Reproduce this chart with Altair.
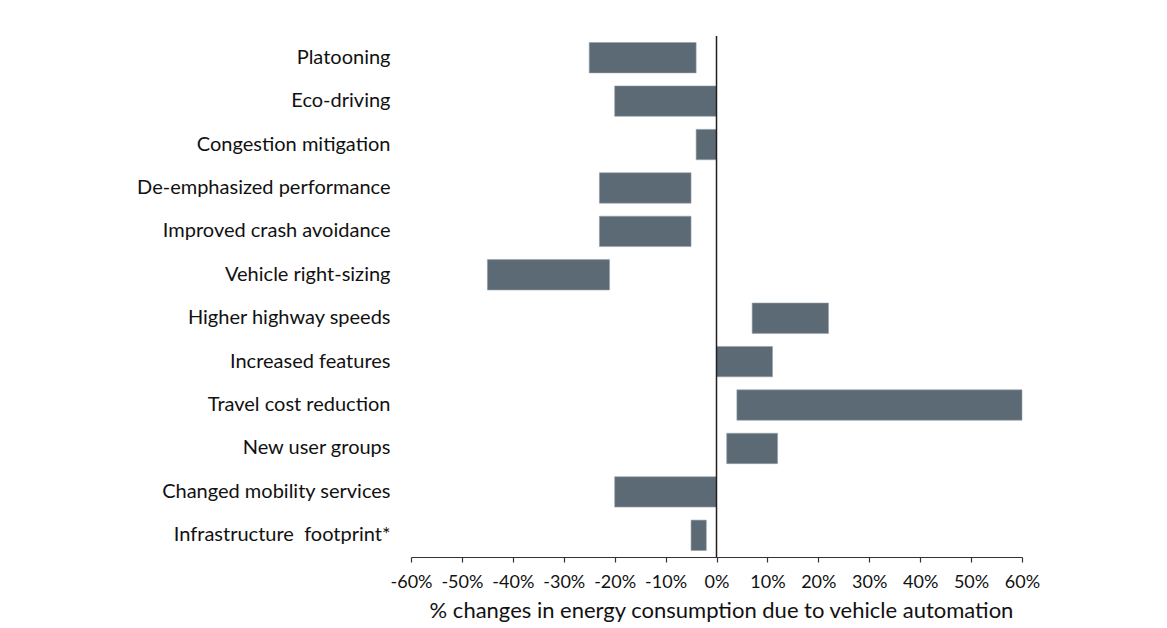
import altair as alt
import pandas as pd

categories = [
    "Platooning",
    "Eco-driving",
    "Congestion mitigation",
    "De-emphasized performance",
    "Improved crash avoidance",
    "Vehicle right-sizing",
    "Higher highway speeds",
    "Increased features",
    "Travel cost reduction",
    "New user groups",
    "Changed mobility services",
    "Infrastructure\u00a0 footprint*",
]
low = [-25, -20, -4, -23, -23, -45, 7, 0, 4, 2, -20, -5]
high = [-4, 0, 0, -5, -5, -21, 22, 11, 60, 12, 0, -2]
tick_values = [-60, -50, -40, -30, -20, -10, 0, 10, 20, 30, 40, 50, 60]

df = pd.DataFrame({"category": categories, "low": low, "high": high})

FONT = "Lato"
BAR = "#5b6a74"
TEXT = "#111111"

x_scale = alt.Scale(domain=[-60, 60], nice=False, zero=False)

bars = alt.Chart(df).mark_bar(color=BAR, stroke="#9aa3a9", strokeWidth=0.6).encode(
    y=alt.Y(
        "category:N",
        sort=categories,
        scale=alt.Scale(paddingInner=0.3, paddingOuter=0.15),
        axis=alt.Axis(
            title=None,
            domain=False,
            ticks=False,
            grid=False,
            labelFont=FONT,
            labelFontSize=20,
            labelColor=TEXT,
            labelPadding=21,
            labelLimit=400,
        ),
    ),
    x=alt.X(
        "low:Q",
        scale=x_scale,
        axis=alt.Axis(
            values=tick_values,
            labelExpr="datum.value + '%'",
            title="% changes in energy consumption due to vehicle automation",
            titleFont=FONT,
            titleFontSize=22,
            titleFontWeight="normal",
            titleColor=TEXT,
            titlePadding=9,
            titleX=310,
            labelFont=FONT,
            labelFontSize=18,
            labelColor=TEXT,
            labelPadding=11,
            labelFlush=False,
            grid=False,
            domainColor="#333333",
            domainWidth=1.2,
            tickColor="#333333",
            tickWidth=1.2,
            tickSize=5,
        ),
    ),
    x2="high:Q",
)

zero = alt.Chart(pd.DataFrame({"z": [0]})).mark_rule(color="#231f20", strokeWidth=1.5).encode(
    x=alt.X("z:Q", scale=x_scale)
)

chart = (
    alt.layer(bars, zero)
    .properties(
        width=611,
        height=521,
        autosize=alt.AutoSizeParams(type="none"),
        padding={"left": 403, "top": 28, "right": 40, "bottom": 70},
        view=alt.ViewBackground(stroke="transparent", strokeWidth=0, fill="white"),
    )
    .configure_view(strokeWidth=0, stroke="transparent")
    .configure_axis(grid=False)
    .configure(background="white")
)

chart.save("out.html", embed_options={"renderer": "svg", "actions": False})
